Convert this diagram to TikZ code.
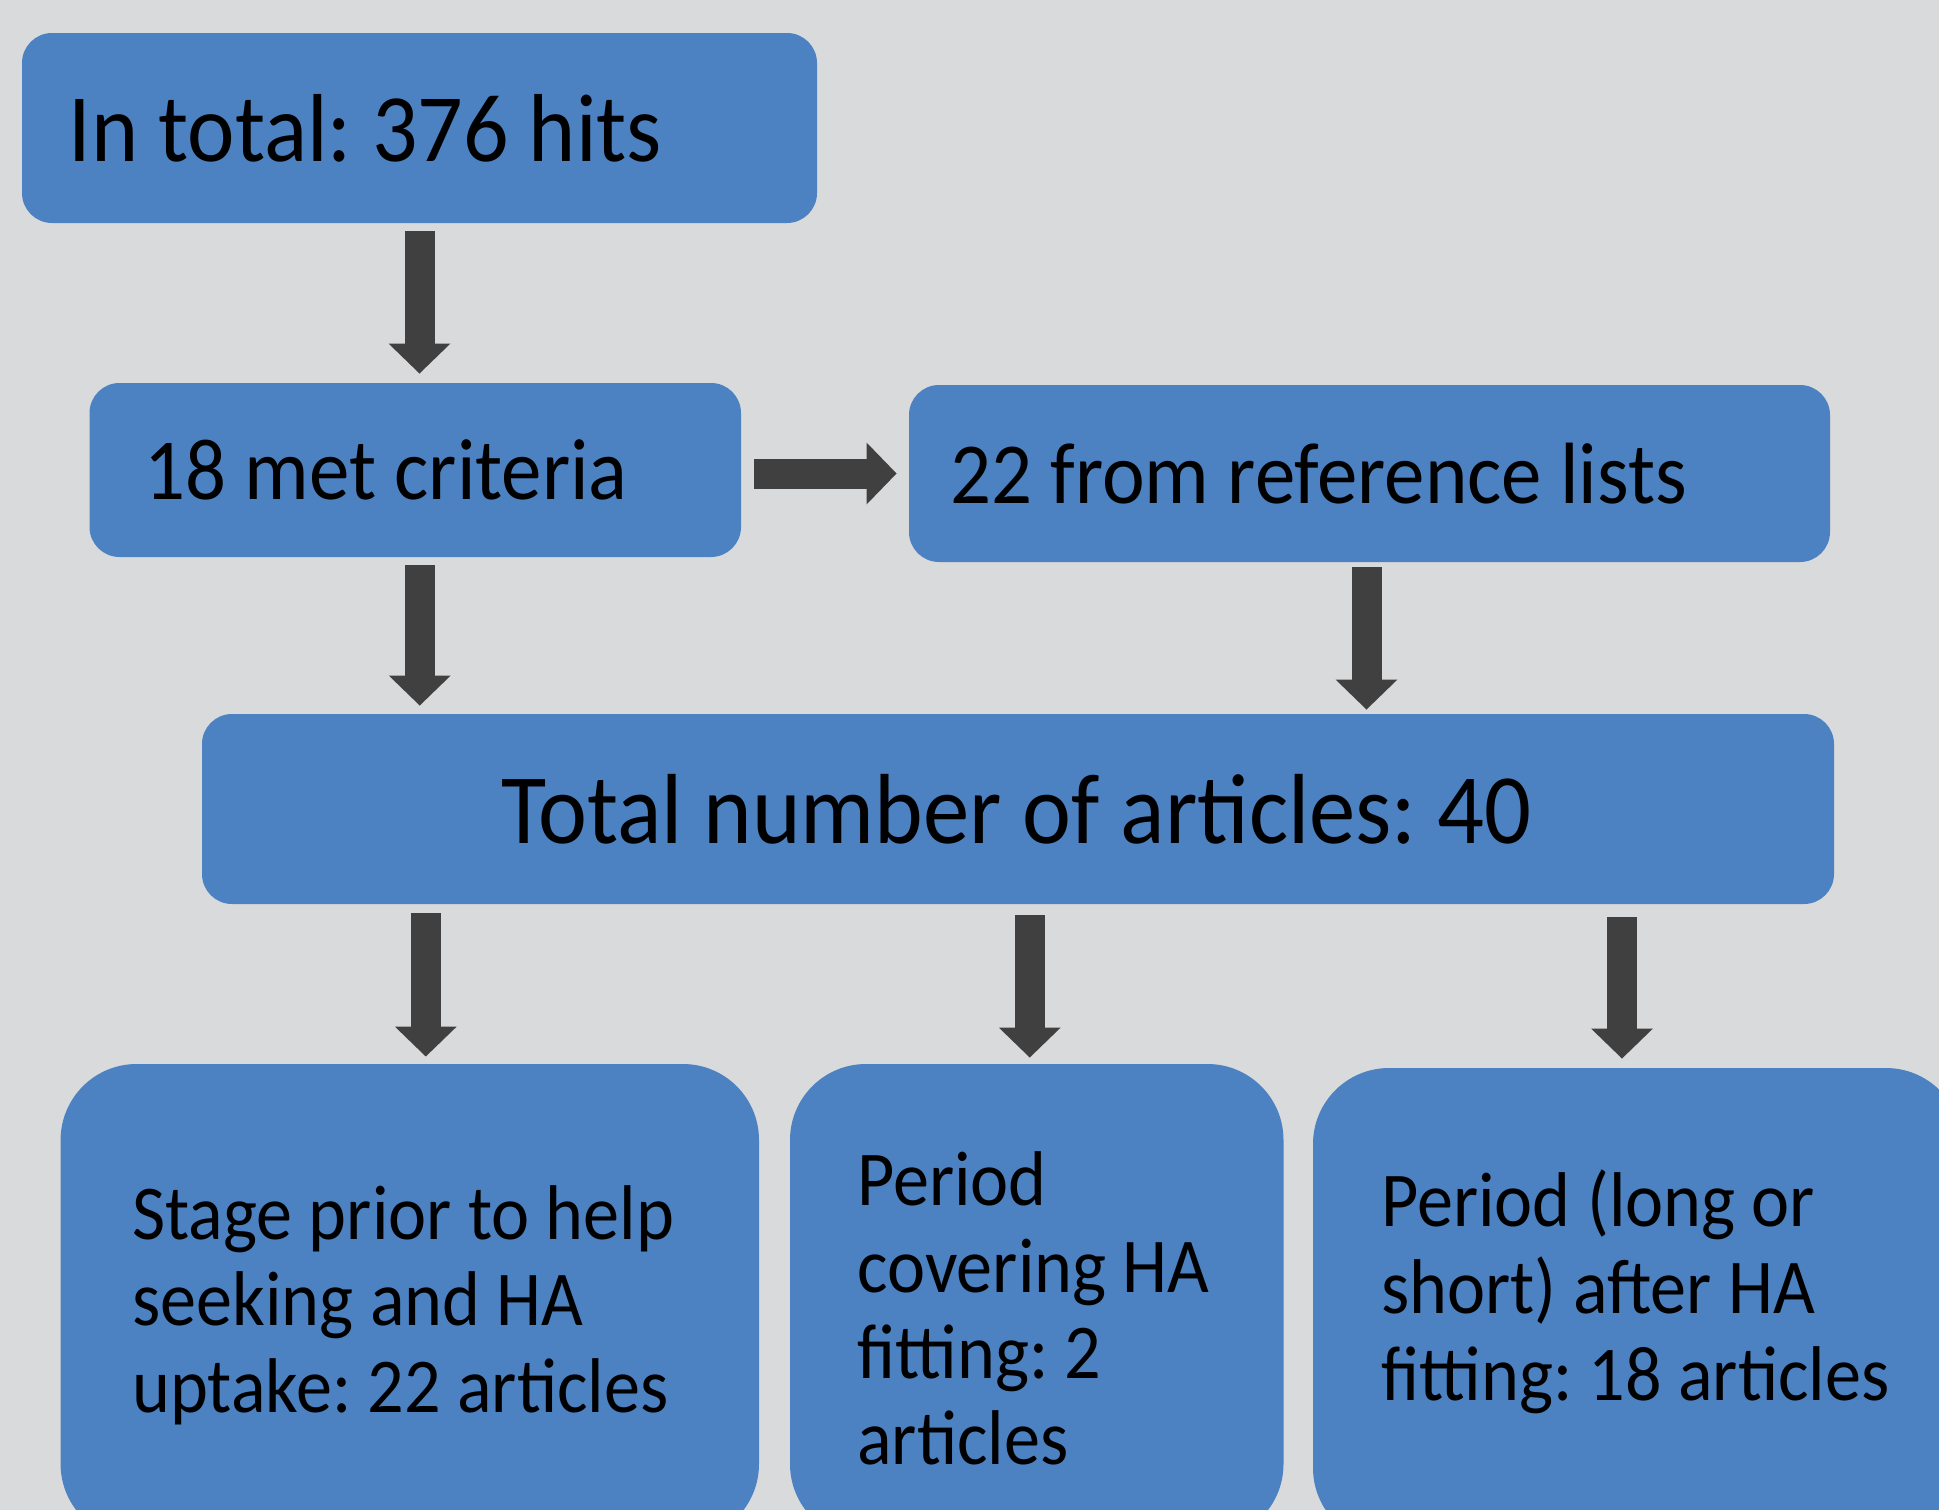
\documentclass[tikz,border=0pt]{standalone}
\usepackage{fontspec}
\setmainfont{Carlito}[FakeStretch=0.93]
\frenchspacing
\usetikzlibrary{arrows.meta,calc}
\definecolor{bgcol}{RGB}{217,218,220}
\definecolor{boxblue}{RGB}{76,129,194}
\definecolor{arrowgray}{RGB}{64,64,64}
\tikzset{
  x=0.5pt, y=-0.5pt,
  box/.style={fill=boxblue, draw=none, rounded corners=15pt, inner sep=0pt},
  bigbox/.style={fill=boxblue, draw=none, rounded corners=38pt, inner sep=0pt},
  barrow/.style={draw=arrowgray, line width=15pt,
    -{Triangle[width=30pt,length=15pt,fill=arrowgray]}},
  lbl/.style={anchor=base west, inner sep=0pt, text=black},
  fA/.style={font=\fontsize{48.3pt}{58pt}\selectfont},
  fB/.style={font=\fontsize{43.5pt}{52pt}\selectfont},
  fC/.style={font=\fontsize{49.8pt}{60pt}\selectfont},
  fD/.style={font=\fontsize{38.8pt}{46pt}\selectfont},
}
\begin{document}
\begin{tikzpicture}
\useasboundingbox (0,0) rectangle (1939,1510);
\clip (0,0) rectangle (1939,1510);
\fill[bgcol] (0,0) rectangle (1939,1510);

% boxes
\node[box, minimum width=397.5pt, minimum height=95pt] (b1) at (419.5,128) {};
\node[box, minimum width=325.75pt, minimum height=87pt] (b2) at (415.25,470) {};
\node[box, minimum width=460.5pt, minimum height=88.5pt] (b3) at (1369.5,473.5) {};
\node[box, minimum width=816pt, minimum height=95pt] (b4) at (1018,809) {};
\node[bigbox, minimum width=349.2pt, minimum height=238pt] (bA) at (409.8,1302) {};
\node[bigbox, minimum width=246.75pt, minimum height=238pt] (bB) at (1036.75,1302) {};
\node[bigbox, minimum width=324.5pt, minimum height=238pt] (bC) at (1637.5,1306) {};

% texts
\node[lbl, fA] (t1) at (68,161) {In total: 376 hits};
\node[lbl, fB] (t2) at (144,499) {18 met criteria};
\node[lbl, fB] (t3) at (950,503) {22 from reference lists};
\node[lbl, fC] (t4) at (501,843) {Total number of articles: 40};

\node[lbl, fD] (a1) at (132,1239) {Stage prior to help};
\node[lbl, fD] (a2) at (132,1325) {seeking and HA};
\node[lbl, fD] (a3) at (132,1412) {uptake: 22 articles};

\node[lbl, fD] (p1) at (857,1205) {Period};
\node[lbl, fD] (p2) at (857,1292) {covering HA};
\node[lbl, fD] (p3) at (857,1378) {fitting: 2};
\node[lbl, fD] (p4) at (857,1464.5) {articles};

\node[lbl, fD] (c1) at (1381,1226) {Period (long or};
\node[lbl, fD] (c2) at (1381,1313) {short) after HA};
\node[lbl, fD] (c3) at (1381,1400) {fitting: 18 articles};

% arrows
\draw[barrow] ($(b1.south)+(0,8)$) -- ($(b1.south |- b2.north)+(0,-9)$);
\draw[barrow] ($(b2.east |- b3.west)+(13,0)$) -- ($(b3.west)+(-12,0)$);
\draw[barrow] ($(b2.south)+(4.5,8)$) -- ($(b2.south |- b4.north)+(4.5,-8)$);
\draw[barrow] ($(b3.south)+(-3,5)$) -- ($(b3.south |- b4.north)+(-3,-4)$);
\draw[barrow] ($(b4.south -| bA.north)+(16,9)$) -- ($(bA.north)+(16,-7)$);
\draw[barrow] ($(b4.south -| bB.north)+(-7,11)$) -- ($(bB.north)+(-7,-6)$);
\draw[barrow] ($(b4.south -| bC.north)+(-15.5,13)$) -- ($(bC.north)+(-15.5,-9)$);
\end{tikzpicture}
\end{document}
